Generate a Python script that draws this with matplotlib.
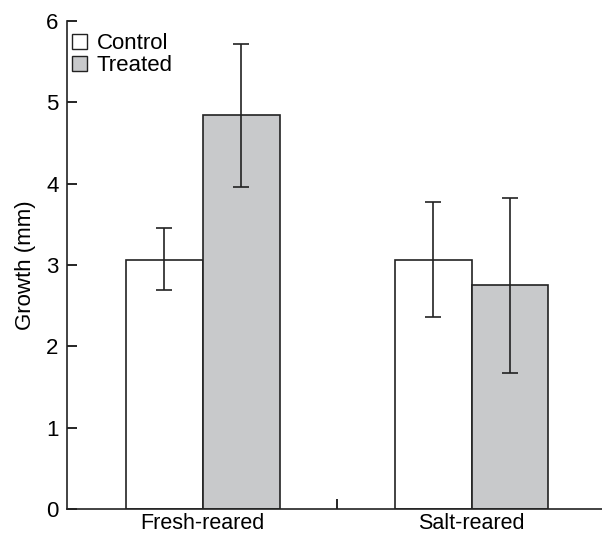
import matplotlib.pyplot as plt
from matplotlib.patches import Patch
import numpy as np

plt.rcParams['font.family'] = ['Liberation Sans', 'DejaVu Sans']

groups = ['Fresh-reared', 'Salt-reared']
control = [3.06, 3.06]
treated = [4.85, 2.75]
control_lo = [2.69, 2.36]
control_hi = [3.46, 3.77]
treated_lo = [3.96, 1.67]
treated_hi = [5.72, 3.82]

x = np.arange(len(groups))
w = 0.286
grey = '#c8c9cb'
ink = '#222222'

fig = plt.figure(figsize=(6.02, 5.38), dpi=100)
ax = fig.add_axes([0.111, 0.054, 0.889, 0.907])

def err(vals, lo, hi):
    return [np.array(vals) - np.array(lo), np.array(hi) - np.array(vals)]

ekw = dict(elinewidth=1.2, capthick=1.2, ecolor=ink)
ax.bar(x - w / 2, control, w, color='white', edgecolor=ink, linewidth=1.2,
       yerr=err(control, control_lo, control_hi), capsize=6, error_kw=ekw)
ax.bar(x + w / 2, treated, w, color=grey, edgecolor=ink, linewidth=1.2,
       yerr=err(treated, treated_lo, treated_hi), capsize=6, error_kw=ekw)

ax.set_xlim(-0.505, 1.485)
ax.set_ylim(0, 6)
ax.set_ylabel('Growth (mm)', fontsize=16, labelpad=7)
ax.set_xticks(x)
ax.set_xticklabels(groups, fontsize=15.5)
ax.set_xticks([0.5], minor=True)
ax.tick_params(axis='x', which='major', length=0, pad=3)
ax.tick_params(axis='x', which='minor', direction='in', length=7, width=1.2)
ax.tick_params(axis='y', direction='in', length=7, width=1.2, labelsize=16, pad=6)
for s in ['top', 'right']:
    ax.spines[s].set_visible(False)
for s in ['left', 'bottom']:
    ax.spines[s].set_linewidth(1.2)
    ax.spines[s].set_color(ink)

handles = [Patch(facecolor='white', edgecolor=ink, label='Control'),
           Patch(facecolor=grey, edgecolor=ink, label='Treated')]
ax.legend(handles=handles, loc='upper left', bbox_to_anchor=(0.009, 0.975),
          frameon=False, fontsize=16, handlelength=0.68, handleheight=0.68,
          handletextpad=0.45, labelspacing=0.05, borderaxespad=0, borderpad=0)

fig.savefig('out.png', dpi=100)
